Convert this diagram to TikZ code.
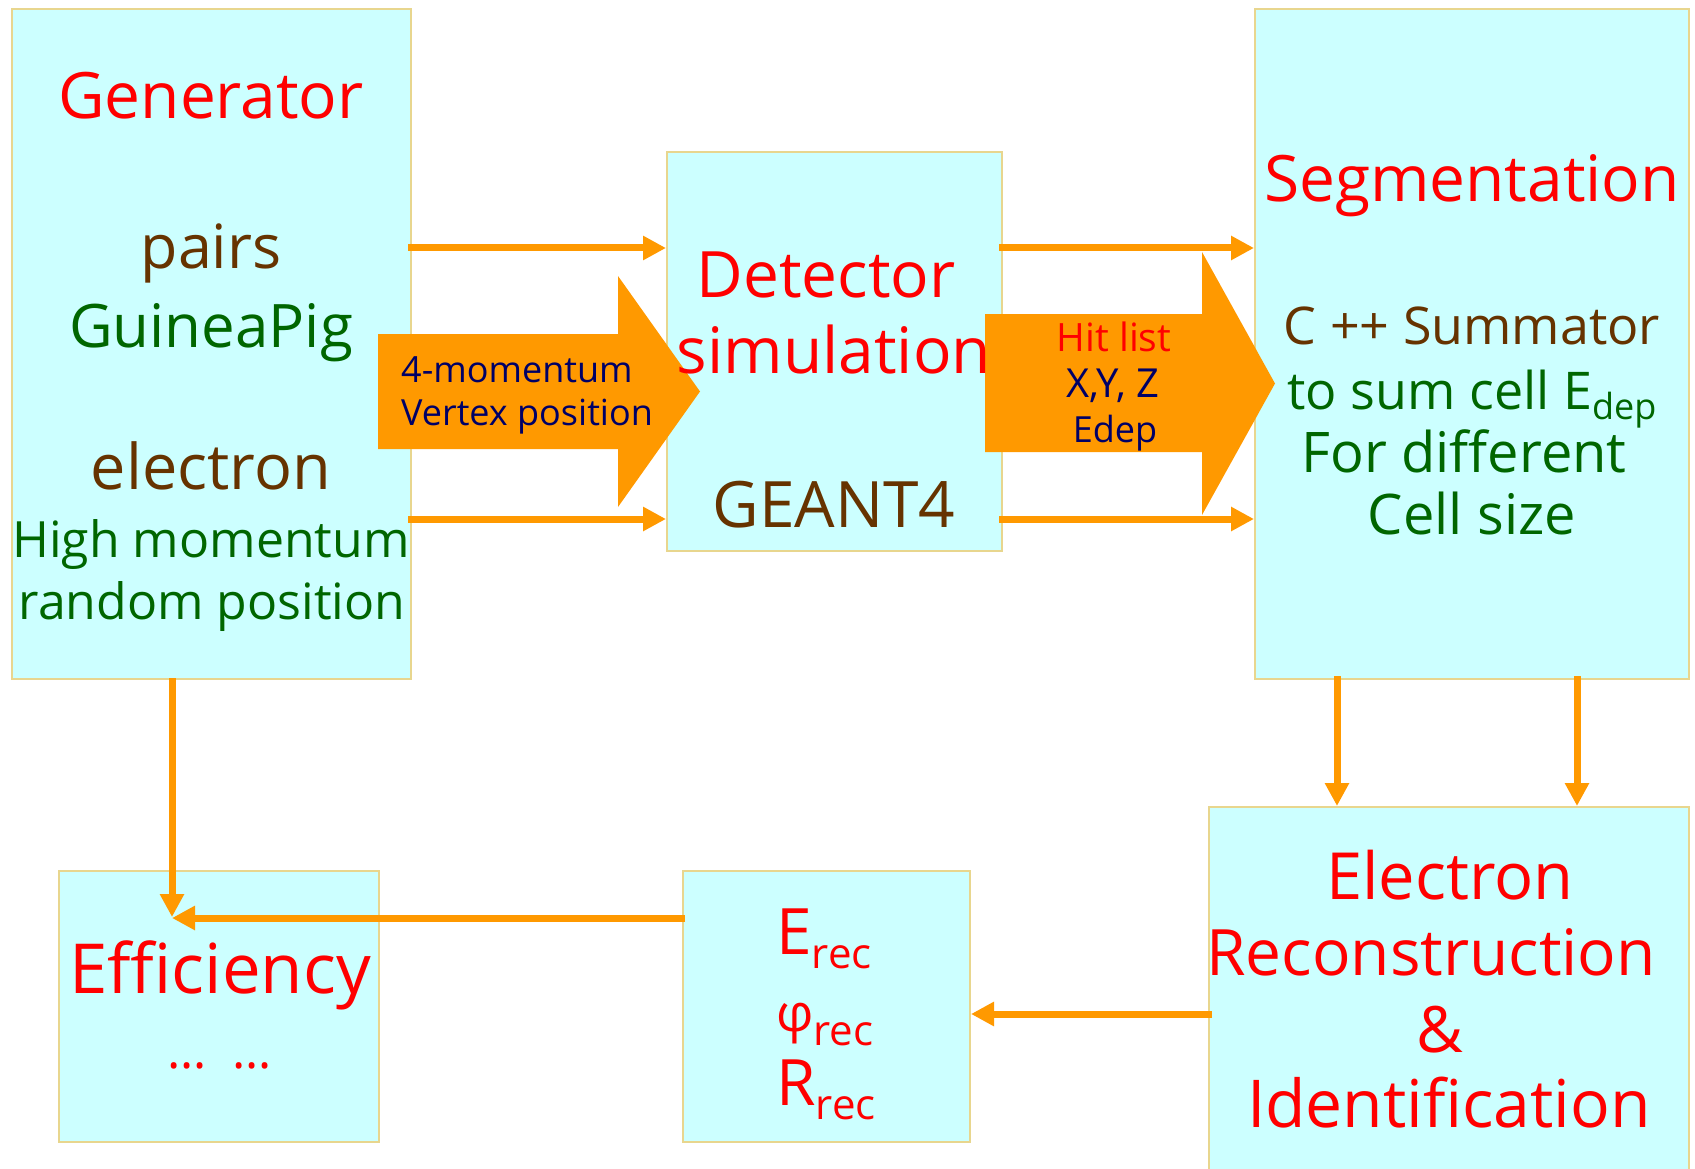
\documentclass[tikz,border=0pt]{standalone}
\usepackage{fontspec}
\setmainfont{Open Sans}
\usetikzlibrary{arrows.meta}
\definecolor{boxfill}{HTML}{CCFFFF}
\definecolor{boxline}{HTML}{E8D68E}
\definecolor{flow}{HTML}{FF9900}
\definecolor{txtred}{HTML}{FF0000}
\definecolor{txtbrown}{HTML}{663300}
\definecolor{txtgreen}{HTML}{006600}
\definecolor{txtnavy}{HTML}{000066}
\newcommand\setfs[1]{\fontsize{#1}{#1}\selectfont}
\newcommand\lowsub[3]{\raisebox{-#1pt}{\setfs{#2}#3}}

\begin{document}
\begin{tikzpicture}[x=1pt,y=-1pt,
  stage/.style={draw=boxline, fill=boxfill, line width=2pt, inner sep=0pt},
  lbl/.style={anchor=base, inner sep=0pt},
  big/.style={lbl, font=\setfs{64}},
  mid/.style={lbl, font=\setfs{52}},
  small/.style={lbl, font=\setfs{36}},
  link/.style={draw=flow, line width=7pt, -{Triangle[length=23pt,width=23pt]}},
  block/.style={fill=flow}]

\clip (0,0) rectangle (1695,1169);
\fill[white] (0,0) rectangle (1695,1169);

% stages
\node[stage, minimum width=399pt, minimum height=670pt] (gen) at (211.5,344) {};
\node[stage, minimum width=335pt, minimum height=399pt] (det) at (834.5,351.5) {};
\node[stage, minimum width=434pt, minimum height=670pt] (seg) at (1472,344) {};
\node[stage, minimum width=480pt, minimum height=380pt] (er) at (1449,997) {};
\node[stage, minimum width=287pt, minimum height=271pt] (rec) at (826.5,1006) {};
\node[stage, minimum width=320pt, minimum height=271pt] (eff) at (219,1006) {};

% reference heights for the connectors
\coordinate (r1) at (0,248);
\coordinate (r2) at (0,519);
\coordinate (v1) at (1337,0);
\coordinate (v2) at (1577,0);
\coordinate (v3) at (172,0);
\coordinate (r3) at (0,1014);
\coordinate (effin) at (172,918);

% connectors
\draw[link] ([xshift=-4pt]gen.east |- r1) -- (det.west |- r1);
\draw[link] ([xshift=-4pt]gen.east |- r2) -- (det.west |- r2);
\draw[link] ([xshift=-4pt]det.east |- r1) -- (seg.west |- r1);
\draw[link] ([xshift=-4pt]det.east |- r2) -- (seg.west |- r2);
\draw[link] ([yshift=4pt]seg.south -| v1) -- (er.north -| v1);
\draw[link] ([yshift=4pt]seg.south -| v2) -- (er.north -| v2);
\draw[link] ([xshift=4pt]er.west |- r3) -- (rec.east |- r3);
\draw[link] ([xshift=3pt]rec.west |- effin) -- (effin);
\draw[link] ([yshift=2pt]gen.south -| v3) -- ([yshift=1pt]effin);

% block arrows carrying the data
\fill[block] (378,334) -- (618,334) -- (618,276) -- (700,391.5) -- (618,507)
  -- (618,449) -- (378,449) -- cycle;
\fill[block] (985,314) -- (1202,314) -- (1202,252) -- (1275,383.5) -- (1202,515)
  -- (1202,452) -- (985,452) -- cycle;

% generator
\node[big, text=txtred] (g1) at (211,119) {Generator};
\node[big, font=\setfs{61}, text=txtbrown] (g2) at (211,269) {pairs};
\node[big, font=\setfs{60}, text=txtgreen] (g3) at (211,347) {GuineaPig};
\node[big, font=\setfs{63}, text=txtbrown] (g4) at (211,489) {electron};
\node[mid, font=\setfs{50}, text=txtgreen] (g5) at (211,557) {High momentum};
\node[mid, font=\setfs{50}, text=txtgreen] (g6) at (212,619) {random position};

% detector simulation
\node[big, text=txtred] (d1) at (826,298) {Detector};
\node[big, text=txtred] (d2) at (834,373) {simulation};
\node[big, text=txtbrown] (d3) at (834,527) {GEANT4};

% segmentation
\node[big, text=txtred] (s1) at (1472,202) {Segmentation};
\node[mid, text=txtbrown] (s2) at (1472,344) {C ++ Summator};
\node[mid, text=txtgreen] (s3) at (1472,409) {to sum cell E\lowsub{10}{36}{dep}};
\node[mid, font=\setfs{56}, text=txtgreen] (s4) at (1464,472) {For different};
\node[mid, font=\setfs{56}, text=txtgreen] (s5) at (1472,534) {Cell size};

% reconstruction
\node[big, font=\setfs{65}, text=txtred] (e1) at (1450,899) {Electron};
\node[big, text=txtred] (e2) at (1431,975) {Reconstruction};
\node[big, text=txtred] (e3) at (1440,1052) {\&};
\node[big, font=\setfs{66}, text=txtred] (e4) at (1449,1127) {Identification};

% reconstructed quantities
\node[big, anchor=base west, text=txtred] (q1) at (776,954) {E\lowsub{14}{42}{rec}};
\node[big, anchor=base west, text=txtred] (q2) at (776,1031) {\setfs{52}φ\lowsub{14}{42}{rec}};
\node[big, anchor=base west, text=txtred] (q3) at (776,1105) {R\lowsub{14}{42}{rec}};

% efficiency
\node[big, font=\setfs{69}, text=txtred] (f1) at (220,993) {Efficiency};
\node[small, font=\setfs{50}, text=txtred] (f2) at (220,1068) {\dots\ \ \dots};

% block arrow labels
\node[small, anchor=base west, text=txtnavy] (a1) at (401,382) {4-momentum};
\node[small, anchor=base west, text=txtnavy] (a2) at (401,425) {Vertex position};
\node[small, font=\setfs{39}, text=txtred] (h1) at (1114,351) {Hit list};
\node[small, font=\setfs{40}, text=txtnavy] (h2) at (1113,397) {X,Y, Z};
\node[small, text=txtnavy] (h3) at (1115,442) {Edep};
\end{tikzpicture}
\end{document}
